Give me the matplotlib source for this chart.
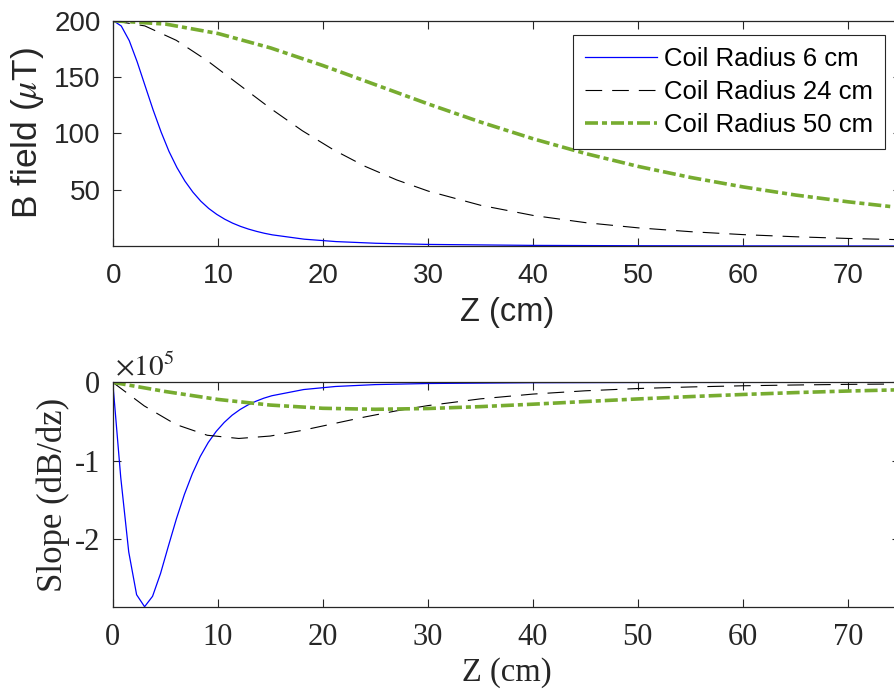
import numpy as np
import matplotlib
matplotlib.use("Agg")
import matplotlib.pyplot as plt

# ------------------------------------------------------------
# data (Z in cm, B in uT, slope in x1e5)
# ------------------------------------------------------------
z_r6 = [0, 0.76, 1.52, 2.27, 3.03, 3.79, 4.55, 5.30, 6.06, 6.82, 7.58,
        8.33, 9.09, 9.85, 10.61, 11.36, 12.12, 12.88, 13.64, 14.39, 15.15,
        18.18, 21.21, 25, 30, 40, 50, 60, 75]
b_r6 = [200, 195.3, 182.3, 163.6, 142.2, 120.9, 101.3, 84.1, 69.7, 57.7, 47.9,
        39.9, 33.4, 28.2, 23.9, 20.4, 17.5, 15.1, 13.1, 11.4, 10.0,
        6.16, 4.03, 2.54, 1.51, 0.65, 0.34, 0.20, 0.10]
s_r6 = [0, -1.214, -2.163, -2.709, -2.862, -2.729, -2.438, -2.087, -1.741, -1.430, -1.165,
        -0.946, -0.768, -0.626, -0.512, -0.420, -0.347, -0.288, -0.241, -0.202, -0.171,
        -0.092, -0.053, -0.029, -0.015, -0.005, -0.002, -0.001, -0.0004]

z_r24 = [0, 3, 6, 9, 12, 15, 18, 21, 24, 27, 30, 35, 40, 45, 50, 55, 60, 65, 70, 75]
b_r24 = [200, 195.4, 182.6, 164.2, 143.1, 122.0, 102.4, 85.3, 70.7, 58.7, 48.8,
         36.2, 27.2, 20.8, 16.2, 12.8, 10.2, 8.3, 6.8, 5.7]
s_r24 = [0, -0.301, -0.537, -0.675, -0.716, -0.685, -0.614, -0.528, -0.442, -0.364,
         -0.297, -0.211, -0.150, -0.108, -0.079, -0.059, -0.044, -0.034, -0.026, -0.021]

z_r50 = [0, 5, 10, 15, 20, 25, 30, 35, 40, 45, 50, 55, 60, 65, 70, 75]
b_r50 = [200, 197.0, 188.6, 175.8, 160.1, 143.1, 126.1, 110.0, 95.2, 82.1, 70.7,
         60.9, 52.5, 45.3, 39.3, 34.1]
s_r50 = [0, -0.117, -0.218, -0.290, -0.331, -0.344, -0.334, -0.310, -0.279, -0.245,
         -0.212, -0.182, -0.155, -0.131, -0.111, -0.095]

labels = ["Coil Radius 6 cm", "Coil Radius 24 cm", "Coil Radius 50 cm"]
xticks = [0, 10, 20, 30, 40, 50, 60, 70]

# ------------------------------------------------------------
plt.rcParams["axes.unicode_minus"] = False
plt.rcParams["mathtext.fontset"] = "stix"

green = (0.466, 0.674, 0.188)
gray = (0.15, 0.15, 0.15)
sans = "Liberation Sans"
serif = "Liberation Serif"

fig = plt.figure(figsize=(8.95, 6.93), dpi=100)
ax1 = fig.add_axes([0.1266, 0.645, 0.8799, 0.3251])
ax2 = fig.add_axes([0.1260, 0.1245, 0.8799, 0.3238])

styles = [dict(color="blue", lw=0.9, ls="-"),
          dict(color="black", lw=0.8, ls=(0, (15, 9))),
          dict(color=green, lw=2.6, ls=(0, (3.6, 1.1, 1.4, 1.1)))]

for z, b, st, lab in zip([z_r6, z_r24, z_r50], [b_r6, b_r24, b_r50], styles, labels):
    ax1.plot(z, b, label=lab, **st)
for z, s, st in zip([z_r6, z_r24, z_r50], [s_r6, s_r24, s_r50], styles):
    ax2.plot(z, s, **st)

ax1.set_xlim(0, 75)
ax1.set_ylim(min(b_r6), 200)
ax1.set_yticks([50, 100, 150, 200])
ax2.set_xlim(0, 75)
ax2.set_ylim(min(s_r6), 0)
ax2.set_yticks([-2, -1, 0])

for ax, fam, tfs, lfs in [(ax1, sans, 20, 23.5), (ax2, serif, 22, 23.5)]:
    ax.set_xticks(xticks)
    for sp in ax.spines.values():
        sp.set_color(gray)
        sp.set_linewidth(0.9)
    ax.tick_params(direction="in", length=6, width=0.8, color=gray,
                   labelcolor=gray, top=True, right=True)
    ax.tick_params(axis="x", pad=12)
    ax.tick_params(axis="y", pad=9)
    for t in ax.get_xticklabels() + ax.get_yticklabels():
        t.set_fontfamily(fam)
        t.set_fontsize(tfs)
    ax.set_xlabel("Z (cm)", fontfamily=fam, fontsize=lfs, color=gray)
    ax.xaxis.set_label_coords(0.5, -0.225)

ax1.set_ylabel(r"B field ($\mu$T)", fontfamily=sans, fontsize=25.5, color=gray)
ax1.yaxis.set_label_coords(-0.086, 0.5)
ax2.set_ylabel("Slope (dB/dz)", fontfamily=serif, fontsize=25, color=gray)
ax2.yaxis.set_label_coords(-0.054, 0.5)

ax2.text(0.003, 1.03, r"$\times10^5$", transform=ax2.transAxes, fontsize=21,
         color=gray, ha="left", va="baseline")

leg = ax1.legend(loc="upper right", bbox_to_anchor=(885 / 895, 1 - 35 / 693),
                 bbox_transform=fig.transFigure, borderaxespad=0,
                 prop={"family": sans, "size": 18.5}, fancybox=False,
                 framealpha=1, edgecolor=gray, handlelength=2.8,
                 handletextpad=0.25, labelspacing=0.35, borderpad=0.47)
leg.get_frame().set_linewidth(0.8)

fig.savefig("out.png", dpi=100)
